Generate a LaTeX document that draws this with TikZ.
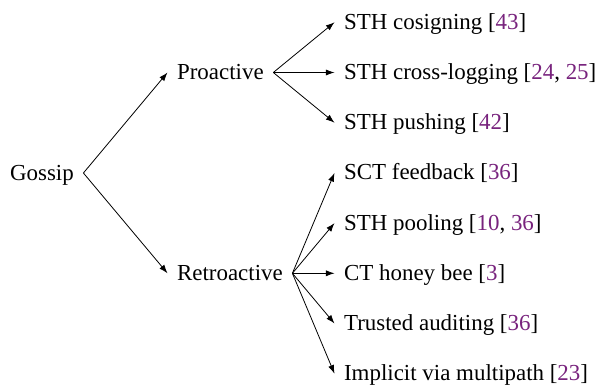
\documentclass[tikz,border=0pt]{standalone}
\usepackage{fontspec}
\setmainfont{Liberation Serif}
\usetikzlibrary{arrows.meta}
\definecolor{citecolor}{RGB}{120,35,125}
\newcommand{\cit}[1]{\textcolor{citecolor}{#1}}

\begin{document}
\begin{tikzpicture}[x=0.75pt,y=-0.75pt,
    item/.style={anchor=west,inner xsep=7pt,inner ysep=0pt,
      text height=12pt,text depth=1.5pt,font=\fontsize{17.2}{20}\selectfont},
    arr/.style={-{Latex[length=6.5pt,width=4.6pt]},line width=0.6pt}]
  \useasboundingbox (0,0) rectangle (603,385);

  % root and middle level
  \node[item] (gossip) at (0.5,173) {Gossip};
  \node[item] (pro) at (167.5,72.5) {Proactive};
  \node[item] (retro) at (167.5,273.3) {Retroactive};

  % leaves
  \node[item] (cosign) at (334.5,22.3) {STH cosigning [\cit{43}]};
  \node[item] (crosslog) at (334.5,72.5) {STH cross-logging [\cit{24}, \cit{25}]};
  \node[item] (push) at (334.5,122.7) {STH pushing [\cit{42}]};
  \node[item] (sct) at (334.5,172.9) {SCT feedback [\cit{36}]};
  \node[item] (pool) at (334.5,223.1) {STH pooling [\cit{10}, \cit{36}]};
  \node[item] (honey) at (334.5,273.3) {CT honey bee [\cit{3}]};
  \node[item] (audit) at (334.5,323.5) {Trusted auditing [\cit{36}]};
  \node[item] (multi) at (334.5,373.7) {Implicit via multipath [\cit{23}]};

  \draw[arr] (gossip.east) -- (pro.west);
  \draw[arr] (gossip.east) -- (retro.west);

  \foreach \leaf in {cosign,crosslog,push}
    \draw[arr] (pro.east) -- (\leaf.west);
  \foreach \leaf in {sct,pool,honey,audit,multi}
    \draw[arr] (retro.east) -- (\leaf.west);
\end{tikzpicture}
\end{document}
